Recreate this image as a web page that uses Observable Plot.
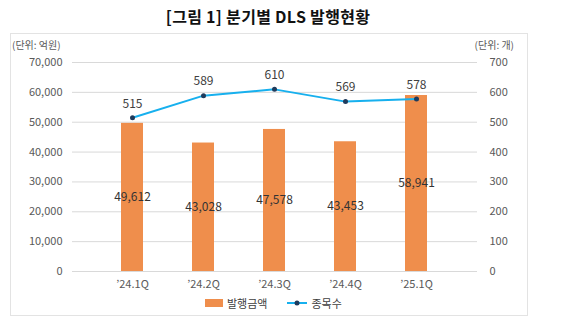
<!DOCTYPE html>
<html><head><meta charset="utf-8">
<script src="https://cdn.jsdelivr.net/npm/d3@7"></script>
<script src="https://cdn.jsdelivr.net/npm/@observablehq/plot@0.6"></script>
<style>
body{margin:0;background:#fff;font-family:"Noto Sans CJK KR",sans-serif;}
#wrap{position:relative;width:578px;height:326px;overflow:hidden;}
#title{position:absolute;left:0;width:536px;top:4px;text-align:center;font-weight:bold;font-size:16px;letter-spacing:0.3px;color:#111;}
#box{position:absolute;left:10px;top:33px;width:516px;height:281px;border:1px solid #e3e3e3;}
.unit{position:absolute;top:37px;font-size:10px;color:#595959;}
#chart{position:absolute;left:0;top:0;}
#legend{position:absolute;top:295px;left:205px;font-size:11px;color:#404040;display:flex;align-items:center;}
.sw{display:inline-block;}
</style></head>
<body><div id="wrap">
<div id="box"></div>
<div id="title">[그림 1] 분기별 DLS 발행현황</div>
<div class="unit" style="left:12px">(단위: 억원)</div>
<div class="unit" style="right:64px">(단위: 개)</div>
<div id="chart"></div>
<div id="legend">
<span class="sw" style="width:18px;height:8px;background:#ef8e4c;margin-right:4px"></span><span>발행금액</span>
<svg width="20" height="10" style="margin-left:20px;margin-right:4px"><line x1="0" y1="5" x2="20" y2="5" stroke="#17b0ee" stroke-width="2"/><circle cx="10" cy="5" r="2.5" fill="#1f3b5c"/></svg><span>종목수</span>
</div>
</div>
<script>
const quarters = ["’24.1Q","’24.2Q","’24.3Q","’24.4Q","’25.1Q"];
const amounts = [49612, 43028, 47578, 43453, 58941];
const counts = [515, 589, 610, 569, 578];
const leftTicks = [0,10000,20000,30000,40000,50000,60000,70000];
const rightTicks = [0,100,200,300,400,500,600,700];

const bars = quarters.map((q,i)=>({q, v: amounts[i]}));
const line = quarters.map((q,i)=>({q, c: counts[i], y: counts[i]*100}));
const gray = "#595959";

const plot = Plot.plot({
  width: 578, height: 326,
  marginLeft: 72, marginRight: 101, marginTop: 62, marginBottom: 55,
  style: {fontFamily: '"Noto Sans CJK KR", sans-serif', background: "transparent", overflow: "visible"},
  x: {type: "band", domain: quarters, padding: 0.69, label: null},
  y: {domain: [0, 70000], label: null},
  marks: [
    Plot.ruleY(leftTicks, {stroke: "#d9d9d9", strokeWidth: 1}),
    Plot.barY(bars, {x: "q", y: "v", fill: "#ef8e4c"}),
    Plot.text(bars, {x: "q", y: d => d.v/2, text: d => d3.format(",")(d.v), fill: "#333", fontSize: 12}),
    Plot.line(line, {x: "q", y: "y", stroke: "#17b0ee", strokeWidth: 2}),
    Plot.dot(line, {x: "q", y: "y", r: 2.5, fill: "#1f3b5c"}),
    Plot.text(line, {x: "q", y: "y", text: d => String(d.c), dy: -14, fill: "#404040", fontSize: 12}),
    Plot.axisY(leftTicks, {anchor: "left", tickSize: 0, tickPadding: 10, tickFormat: d3.format(","), fontSize: 11, color: gray, label: null}),
    Plot.axisY(rightTicks.map(d=>d*100), {anchor: "right", tickSize: 0, tickPadding: 12, tickFormat: d => String(d/100), fontSize: 11, color: gray, label: null, textAnchor: "start"}),
    Plot.axisX({anchor: "bottom", tickSize: 0, tickPadding: 9, fontSize: 11, color: gray, label: null})
  ]
});
document.getElementById("chart").appendChild(plot);
</script>
</body></html>
